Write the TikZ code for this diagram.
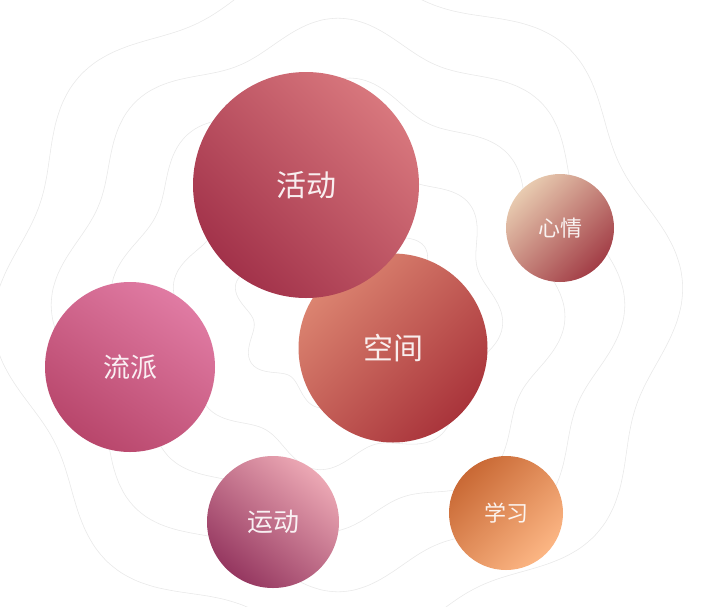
\documentclass[tikz,border=0pt]{standalone}
\usepackage{fontspec}
\newfontfamily\cjk{Noto Sans CJK SC}
\definecolor{hdL}{HTML}{D8777D}
\definecolor{hdD}{HTML}{A2324A}
\definecolor{kjL}{HTML}{DC8571}
\definecolor{kjD}{HTML}{A9343B}
\definecolor{xqL}{HTML}{E8CBB0}
\definecolor{xqD}{HTML}{A23D46}
\definecolor{lpL}{HTML}{E07BA3}
\definecolor{lpD}{HTML}{B8466B}
\definecolor{ydL}{HTML}{ECA8B4}
\definecolor{ydD}{HTML}{953760}
\definecolor{xxL}{HTML}{FCB684}
\definecolor{xxD}{HTML}{C96935}
\begin{document}
\begin{tikzpicture}[x=1pt,y=-1pt]
\tikzset{
  ring/.style={draw=black!9, line width=0.55pt},
  bub/.style={circle, inner sep=0pt, text=white, text opacity=0.9, font=\cjk},
}
\useasboundingbox (0,0) rectangle (704,606);
\fill[white] (0,0) rectangle (704,606);
\foreach \R/\ph in {95/0, 155/30, 215/60, 273/90, 330/120} {
  \draw[ring] plot[domain=0:357, samples=120, smooth cycle, variable=\t]
    ({338+(\R+(7+0.025*\R)*sin(8*\t+\ph))*cos(\t)}, {305+(\R+(7+0.025*\R)*sin(8*\t+\ph))*sin(\t)});
}
\node[bub, minimum size=189pt, top color=kjL, bottom color=kjD, shading angle=45] (kongjian) at (393,348) {\fontsize{30}{30}\selectfont 空间};
\node[bub, minimum size=226pt, top color=hdL, bottom color=hdD, shading angle=-45] (huodong) at (306,185) {\fontsize{30}{30}\selectfont 活动};
\node[bub, minimum size=108pt, top color=xqL, bottom color=xqD, shading angle=45] (xinqing) at (560,228) {\fontsize{22}{22}\selectfont 心情};
\node[bub, minimum size=170pt, top color=lpL, bottom color=lpD, shading angle=-35] (liupai) at (130,367) {\fontsize{27}{27}\selectfont 流派};
\node[bub, minimum size=132pt, top color=ydL, bottom color=ydD, shading angle=-40] (yundong) at (273,522) {\fontsize{26}{26}\selectfont 运动};
\node[bub, minimum size=114pt, top color=xxL, bottom color=xxD, shading angle=-135] (xuexi) at (506,513) {\fontsize{22}{22}\selectfont 学习};
\end{tikzpicture}
\end{document}
